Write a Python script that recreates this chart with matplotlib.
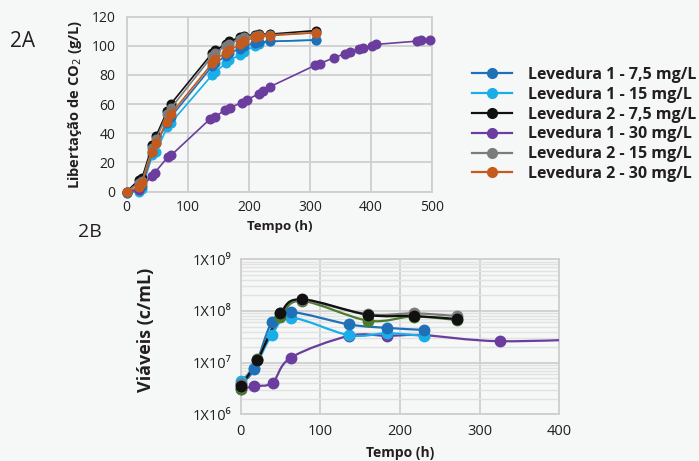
import numpy as np
import matplotlib
matplotlib.use("Agg")
import matplotlib.pyplot as plt
from matplotlib.path import Path
from matplotlib.patches import PathPatch
from matplotlib.lines import Line2D

plt.rcParams['font.family'] = ['Open Sans', 'DejaVu Sans']

# ---- 2A: CO2 release (g/L) vs time (h)
tA = [0, 20, 25, 42, 48, 66, 72, 140, 145, 162, 168, 186, 192, 210, 216, 234, 310]
co2_l1_75 = [-1, 2, 4, 27, 33, 47, 51, 86, 88, 93, 95, 98, 100, 102, 102.5, 103, 104]
co2_l1_15 = [-1, 0, 2, 25, 27, 44, 47, 80, 82, 88, 90, 94, 96, 100, 101, 103, 104]
co2_l2_75 = [0, 8, 9, 32, 38, 55, 60, 95, 97, 101, 103, 106, 107, 107.5, 108, 108, 110.5]
co2_l2_15 = [0, 6, 7, 30, 36, 53, 57, 93, 95, 100, 101, 105, 106, 107, 107.5, 107.5, 109]
co2_l2_30 = [0, 3, 6, 27, 33, 48, 53, 88, 91, 95, 97, 101, 103, 106, 106.5, 107, 109]

tA_l1_30 = [0, 20, 42, 46, 68, 73, 137, 144, 161, 169, 188, 197, 216, 224, 235,
            309, 316, 339, 358, 365, 380, 387, 402, 409, 475, 482, 496]
co2_l1_30 = [0, 1, 11, 13, 24, 25, 50, 51, 56, 57.5, 61, 63, 67, 69, 72,
             86.7, 87.8, 91.7, 94.7, 95.9, 97.5, 98.6, 100, 101, 103.2, 104, 103.7]

# ---- 2B: viable cells (c/mL) vs time (h)
tB_l1 = [0, 17, 39, 63, 136, 184, 230]
tB_l1_30 = [0, 17, 40, 63, 136, 184, 230, 326, 480]
tB_l2 = [0, 21, 50, 77, 160, 217, 271]
via_l1_75 = [3.9e6, 7.5e6, 6.0e7, 9.5e7, 5.5e7, 4.7e7, 4.3e7]
via_l1_15 = [4.5e6, 7.8e6, 3.4e7, 7.4e7, 3.4e7, 3.7e7, 3.3e7]
via_l1_30 = [3.05e6, 3.5e6, 4.1e6, 1.25e7, 3.3e7, 3.3e7, 3.4e7, 2.6e7, 3.0e7]
via_l2_75 = [3.5e6, 1.1e7, 9.0e7, 1.68e8, 8.4e7, 8.0e7, 7.0e7]
via_l2_15 = [3.8e6, 1.15e7, 9.3e7, 1.6e8, 8.6e7, 9.0e7, 8.0e7]
via_l2_30 = [3.05e6, 1.2e7, 7.5e7, 1.56e8, 6.5e7, 7.8e7, 6.7e7]

labels = ["Levedura 1 - 7,5 mg/L", "Levedura 1 - 15 mg/L", "Levedura 2 - 7,5 mg/L",
          "Levedura 1 - 30 mg/L", "Levedura 2 - 15 mg/L", "Levedura 2 - 30 mg/L"]

c_dblue = "#1f70b8"
c_lblue = "#1aaee8"
c_black = "#111111"
c_purple = "#6a3d9e"
c_gray = "#7b7b7b"
c_orange = "#c55a1e"
c_green = "#4c7a2e"
grid_c = "#cfcfcf"
txt_c = "#231f20"

fig = plt.figure(figsize=(6.99, 4.61), dpi=100)
fig.patch.set_facecolor("#f5f8f6")

# ---------------- 2A
axA = fig.add_axes([0.1813, 0.5845, 0.4367, 0.3793])
axA.set_facecolor("none")
seriesA = [
    (tA, co2_l1_15, c_lblue),
    (tA, co2_l1_75, c_dblue),
    (tA_l1_30, co2_l1_30, c_purple),
    (tA, co2_l2_75, c_black),
    (tA, co2_l2_15, c_gray),
    (tA, co2_l2_30, c_orange),
]
for x, y, c in seriesA:
    axA.plot(x, y, color=c, lw=1.2, marker="o", ms=6.2, clip_on=False, zorder=3)
axA.set_xlim(0, 500)
axA.set_ylim(0, 120)
axA.set_xticks(range(0, 501, 100))
axA.set_yticks(range(0, 121, 20))
axA.grid(True, color=grid_c, lw=1.3)
axA.set_axisbelow(True)
for s in axA.spines.values():
    s.set_color(grid_c)
    s.set_linewidth(1.3)
axA.tick_params(length=0, labelsize=10, colors=txt_c, pad=6)
axA.tick_params(axis="y", pad=8)
axA.set_xlabel("Tempo (h)", fontsize=9.5, fontweight="bold", color=txt_c, labelpad=4)
axA.set_ylabel("Libertação de CO$_2$ (g/L)", fontsize=10.5, fontweight="bold", color=txt_c)
axA.yaxis.set_label_coords(-0.14, 0.5)

fig.text(0.014, 0.91, "2A", fontsize=15, color=txt_c, va="center")
fig.text(0.112, 0.497, "2B", fontsize=14, color=txt_c, va="center")

# ---------------- 2B
axB = fig.add_axes([0.3443, 0.1013, 0.4559, 0.3362])
axB.set_facecolor("none")
axB.set_yscale("log")
xmaxB = 400
axB.set_xlim(0, xmaxB)
axB.set_ylim(1e6, 1e9)


def smooth_path(x, y):
    # Catmull-Rom style cubic bezier, like a spreadsheet "smoothed line"
    px = np.asarray(x, float)
    py = np.log10(np.asarray(y, float))
    verts = [(px[0], py[0])]
    codes = [Path.MOVETO]
    n = len(px)
    for i in range(n - 1):
        i0 = max(i - 1, 0)
        i3 = min(i + 2, n - 1)
        c1 = (px[i] + (px[i + 1] - px[i0]) / 6, py[i] + (py[i + 1] - py[i0]) / 6)
        c2 = (px[i + 1] - (px[i3] - px[i]) / 6, py[i + 1] - (py[i3] - py[i]) / 6)
        verts += [c1, c2, (px[i + 1], py[i + 1])]
        codes += [Path.CURVE4] * 3
    verts = np.array(verts)
    verts[:, 1] = 10 ** verts[:, 1]
    return Path(verts, codes)


seriesB = [
    (tB_l1_30, via_l1_30, c_purple),
    (tB_l1, via_l1_15, c_lblue),
    (tB_l1, via_l1_75, c_dblue),
    (tB_l2, via_l2_30, c_green),
    (tB_l2, via_l2_15, c_gray),
    (tB_l2, via_l2_75, c_black),
]
for x, y, c in seriesB:
    axB.add_patch(PathPatch(smooth_path(x, y), fill=False, edgecolor=c, lw=1.6, zorder=3))
    xs = np.array(x)
    ys = np.array(y)
    vis = xs <= xmaxB
    axB.plot(xs[vis], ys[vis], ls="none", marker="o", ms=7.5, color=c, zorder=4, clip_on=False)

axB.set_xticks(range(0, 401, 100))
axB.set_yticks([1e6, 1e7, 1e8, 1e9])
axB.set_yticklabels(["1X10⁶", "1X10⁷", "1X10⁸", "1X10⁹"])
axB.set_yticks([k * 10 ** e for e in (6, 7, 8) for k in range(2, 10)], minor=True)
axB.yaxis.set_minor_formatter(plt.NullFormatter())
axB.grid(True, which="major", color=grid_c, lw=1.3)
axB.grid(True, which="minor", axis="y", color="#e2e2e2", lw=1.0)
axB.set_axisbelow(True)
for s in axB.spines.values():
    s.set_color(grid_c)
    s.set_linewidth(1.3)
axB.tick_params(which="both", length=0, labelsize=10.5, colors=txt_c, pad=7)
axB.set_xlabel("Tempo (h)", fontsize=10, fontweight="bold", color=txt_c, labelpad=5)
axB.set_ylabel("Viáveis (c/mL)", fontsize=13, fontweight="bold", color=txt_c)
axB.yaxis.set_label_coords(-0.27, 0.545)

# legend
colsL = [c_dblue, c_lblue, c_black, c_purple, c_gray, c_orange]
handles = [Line2D([], [], color=c, lw=1.6, marker="o", ms=7) for c in colsL]
fig.legend(handles, labels, loc="upper left", bbox_to_anchor=(0.675, 0.855),
           frameon=False, prop={"weight": "bold", "size": 11.5},
           handlelength=2.5, handletextpad=1.0, labelspacing=0.24,
           borderpad=0, borderaxespad=0, labelcolor=txt_c)

fig.savefig("out.png", dpi=100, facecolor=fig.get_facecolor())
